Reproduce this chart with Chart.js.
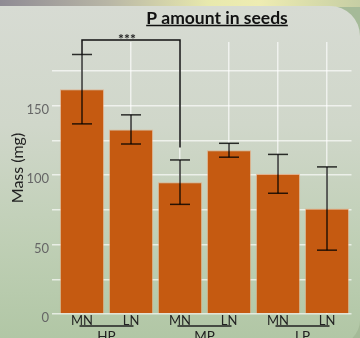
<!DOCTYPE html>
<html>
<head>
<meta charset="utf-8">
<script src="https://cdn.jsdelivr.net/npm/chart.js"></script>
<style>
  html, body { margin: 0; padding: 0; }
  body {
    width: 360px; height: 338px; overflow: hidden; position: relative;
    background:
      linear-gradient(to right, #8f8b94 0%, #b8b6a6 30%, #e8e9ad 58%, #eeecb2 72%, #c6cea4 100%) top / 100% 7px no-repeat,
      #a5ba98;
  }
  #panel {
    position: absolute; left: 0; top: 6px; width: 360px; height: 339px;
    border-top-right-radius: 30px; border-bottom-right-radius: 25px;
    background: linear-gradient(to bottom, #d7dbd3 0%, #d0d7ca 35%, #bfcfb5 70%, #b0c6a4 100%);
  }
  canvas { position: absolute; left: 0; top: 0; }
</style>
</head>
<body>
<div id="panel"></div>
<canvas id="chart" width="360" height="338"></canvas>
<script>
// P content of seeds, two N levels (MN / LN) under three P levels
let categories = ["MN", "LN", "MN", "LN", "MN", "LN"];
let groups = ["HP", "MP", "LP"];
let massMeans = [162, 133, 95, 118, 101, 76];
let massErrors = [25, 10.5, 16, 5, 14, 30];
let yTicks = [0, 50, 100, 150];

// significance bracket between HP-MN and MP-MN
let bracketFrom = 0;
let bracketTo = 2;
let bracketLevel = 197.5;
let bracketDrop = 120;
let bracketText = "***";

const FONT = 'Lato, "Open Sans", sans-serif';
const gridColor = "rgba(255,255,255,0.65)";
Chart.defaults.font.family = FONT;

function seg(ctx, x1, y1, x2, y2) {
    ctx.beginPath();
    ctx.moveTo(x1, y1);
    ctx.lineTo(x2, y2);
    ctx.stroke();
}

const decorations = {
    id: "decorations",
    afterDatasetsDraw(chart) {
        const ctx = chart.ctx;
        const y = chart.scales.y;
        const bars = chart.getDatasetMeta(0).data;
        ctx.save();

        // error bars
        bars.forEach((bar, i) => {
            const top = y.getPixelForValue(massMeans[i] + massErrors[i]);
            const bot = y.getPixelForValue(massMeans[i] - massErrors[i]);
            ctx.strokeStyle = "rgba(0,0,0,0.6)";
            ctx.lineWidth = 2;
            seg(ctx, bar.x, top, bar.x, bot);
            ctx.strokeStyle = "rgba(0,0,0,0.8)";
            ctx.lineWidth = 1.5;
            seg(ctx, bar.x - 10, top, bar.x + 10, top);
            seg(ctx, bar.x - 10, bot, bar.x + 10, bot);
        });

        // bracket
        const xa = bars[bracketFrom].x;
        const xb = bars[bracketTo].x;
        const yl = y.getPixelForValue(bracketLevel);
        const ya = y.getPixelForValue(massMeans[bracketFrom] + massErrors[bracketFrom]);
        ctx.strokeStyle = "#111";
        ctx.lineWidth = 1.5;
        ctx.beginPath();
        ctx.moveTo(xa, ya);
        ctx.lineTo(xa, yl);
        ctx.lineTo(xb, yl);
        ctx.lineTo(xb, y.getPixelForValue(bracketDrop));
        ctx.stroke();
        ctx.fillStyle = "#222";
        ctx.font = "bold 14px " + FONT;
        ctx.textAlign = "center";
        ctx.textBaseline = "alphabetic";
        ctx.fillText(bracketText, (xa + xb) / 2 - 4, yl + 4);
        ctx.restore();
    },
    afterDraw(chart) {
        const ctx = chart.ctx;
        const bars = chart.getDatasetMeta(0).data;
        ctx.save();

        // title, underlined
        ctx.font = "bold 17.5px " + FONT;
        ctx.fillStyle = "#111";
        ctx.textAlign = "center";
        ctx.textBaseline = "alphabetic";
        const title = "P amount in seeds";
        const tx = 217;
        ctx.fillText(title, tx, 23.5);
        const w = ctx.measureText(title).width;
        ctx.strokeStyle = "#111";
        ctx.lineWidth = 1.5;
        seg(ctx, tx - w / 2, 25.5, tx + w / 2, 25.5);

        // y axis title
        ctx.save();
        ctx.translate(18, 168);
        ctx.rotate(-Math.PI / 2);
        ctx.font = "16px " + FONT;
        ctx.fillStyle = "#222";
        ctx.textAlign = "center";
        ctx.textBaseline = "middle";
        ctx.fillText("Mass (mg)", 0, 0);
        ctx.restore();

        // group labels under each pair
        ctx.font = "13.5px " + FONT;
        ctx.fillStyle = "#222";
        ctx.strokeStyle = "#222";
        ctx.lineWidth = 1.5;
        groups.forEach((g, k) => {
            const mid = (bars[2 * k].x + bars[2 * k + 1].x) / 2;
            seg(ctx, mid - 27, 326, mid + 27, 326);
            ctx.fillText(g, mid, 341);
        });
        ctx.restore();
    }
};

new Chart("chart", {
    type: "bar",
    data: {
        labels: categories,
        datasets: [
            {
                data: massMeans,
                backgroundColor: "#c55a11",
                borderColor: "rgba(235,150,100,0.5)",
                borderWidth: 1,
                barPercentage: 0.9,
                categoryPercentage: 1,
            },
        ],
    },
    options: {
        responsive: false,
        animation: false,
        devicePixelRatio: 1,
        layout: { padding: { top: 42, right: 8.5, left: 0, bottom: 0 } },
        plugins: {
            legend: { display: false },
            tooltip: { enabled: false },
        },
        scales: {
            x: {
                grid: { offset: false, color: gridColor, lineWidth: 1.5, drawTicks: false },
                border: { display: false },
                ticks: { color: "#222", font: { size: 13 }, padding: -1, maxRotation: 0 },
                afterFit: (s) => { s.height = 24; },
            },
            y: {
                min: 0,
                max: 196,
                grid: {
                    color: (c) => (c.tick && c.tick.value % 25 === 0 ? gridColor : "transparent"),
                    lineWidth: 1.5,
                    tickLength: 5.5,
                },
                border: { display: false },
                ticks: {
                    stepSize: 25,
                    autoSkip: false,
                    padding: 3,
                    labelOffset: 4,
                    color: "#666",
                    font: { size: 13 },
                    callback: (v) => (yTicks.includes(v) ? v : ""),
                },
                afterFit: (s) => { s.width = 57.5; },
            },
        },
    },
    plugins: [decorations],
});
</script>
</body>
</html>
